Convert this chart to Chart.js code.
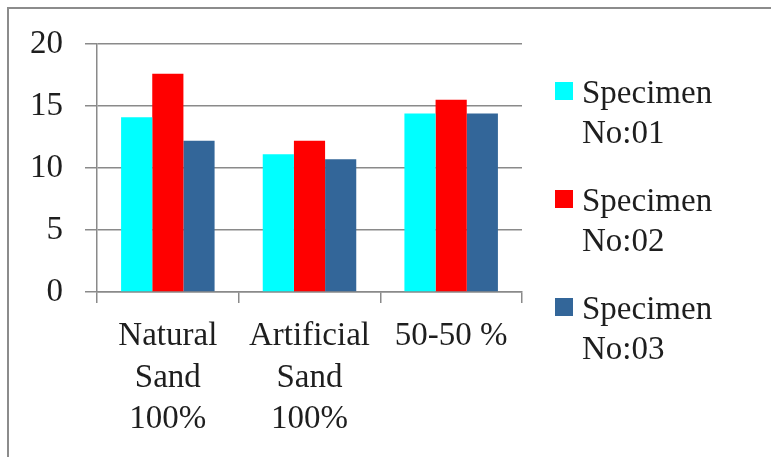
<!DOCTYPE html>
<html>
<head>
<meta charset="utf-8">
<script src="https://cdn.jsdelivr.net/npm/chart.js@4/dist/chart.umd.min.js"></script>
<style>
    html, body { margin: 0; padding: 0; background: #fff; }
    #wrap { position: relative; width: 771px; height: 457px; overflow: hidden; }
    #frame { position: absolute; left: 7px; top: 7px; width: 800px; height: 500px; border-top: 2px solid #8c8c8c; border-left: 2px solid #8c8c8c; }
    #chart { position: absolute; left: 0; top: 0; }
    #legend { position: absolute; left: 555px; top: 0; font-family: 'Liberation Serif', 'Times New Roman', serif; font-size: 33px; line-height: 40px; color: #1e1e1e; }
    .item { position: absolute; left: 0; width: 200px; }
    .box { position: absolute; left: 0; top: 10px; width: 18px; height: 18px; }
    .txt { position: absolute; left: 27px; top: 0; white-space: nowrap; }
</style>
</head>
<body>
<div id="wrap">
    <div id="frame"></div>
    <canvas id="chart" width="771" height="457"></canvas>
    <div id="legend"></div>
</div>
<script>

const categories = [
    [ 'Natural', 'Sand', '100%' ],
    [ 'Artificial', 'Sand', '100%' ],
    [ '50-50 %' ]
];

const seriesNames = [ [ 'Specimen', 'No:01' ], [ 'Specimen', 'No:02' ], [ 'Specimen', 'No:03' ] ];
const seriesColors = [ '#00ffff', '#ff0000', '#336699' ];

const specimen01 = [ 14.1, 11.1, 14.4 ];
const specimen02 = [ 17.6, 12.2, 15.5 ];
const specimen03 = [ 12.2, 10.7, 14.4 ];

const yTicks = [ 0, 5, 10, 15, 20 ];

document.addEventListener( 'DOMContentLoaded', function () {

    /**
     * html legend, two lines per entry
     */

    let legend = document.getElementById( 'legend' );

    seriesNames.forEach( ( name, i ) => {

        let item = document.createElement( 'div' );
        item.className = 'item';
        item.style.top = ( 72 + i * 108 ) + 'px';
        item.innerHTML = '<div class="box" style="background:' + seriesColors[ i ] + '"></div>' +
            '<div class="txt">' + name.join( '<br>' ) + '</div>';
        legend.appendChild( item );

    } );

    /**
     * bar chart
     */

    let ctx = document.getElementById( 'chart' ).getContext( '2d' );
    let font = { family: "'Liberation Serif', 'Times New Roman', serif", size: 33 };
    let gridColor = '#8a8a8a';

    new Chart( ctx, {
        type: 'bar',
        data: {
            labels: categories,
            datasets: [ specimen01, specimen02, specimen03 ].map( ( values, i ) => ( {
                label: seriesNames[ i ].join( ' ' ),
                data: values,
                backgroundColor: seriesColors[ i ],
                borderWidth: 0,
                barPercentage: 1,
                categoryPercentage: 0.66
            } ) )
        },
        options: {
            responsive: false,
            animation: false,
            layout: {
                padding: { left: 0, top: 44, right: 249, bottom: 0 }
            },
            plugins: {
                legend: { display: false },
                tooltip: { enabled: false }
            },
            scales: {
                x: {
                    offset: true,
                    border: { display: true, color: gridColor, width: 1.5 },
                    grid: {
                        display: true,
                        offset: true,
                        drawOnChartArea: false,
                        color: gridColor,
                        lineWidth: 1.5,
                        tickLength: 11
                    },
                    ticks: {
                        color: '#1e1e1e',
                        font: Object.assign( { lineHeight: 1.27 }, font ),
                        padding: 12,
                        maxRotation: 0,
                        autoSkip: false
                    },
                    afterFit: ( scale ) => { scale.height = 165; }
                },
                y: {
                    min: 0,
                    max: 20,
                    afterBuildTicks: ( scale ) => { scale.ticks = yTicks.map( v => ( { value: v } ) ); },
                    border: { display: true, color: gridColor, width: 1.5 },
                    grid: {
                        color: gridColor,
                        lineWidth: 1.5,
                        tickLength: 12
                    },
                    ticks: {
                        color: '#1e1e1e',
                        font: font,
                        padding: 22
                    },
                    afterFit: ( scale ) => { scale.width = 97; }
                }
            }
        }
    } );

} );

</script>
</body>
</html>
